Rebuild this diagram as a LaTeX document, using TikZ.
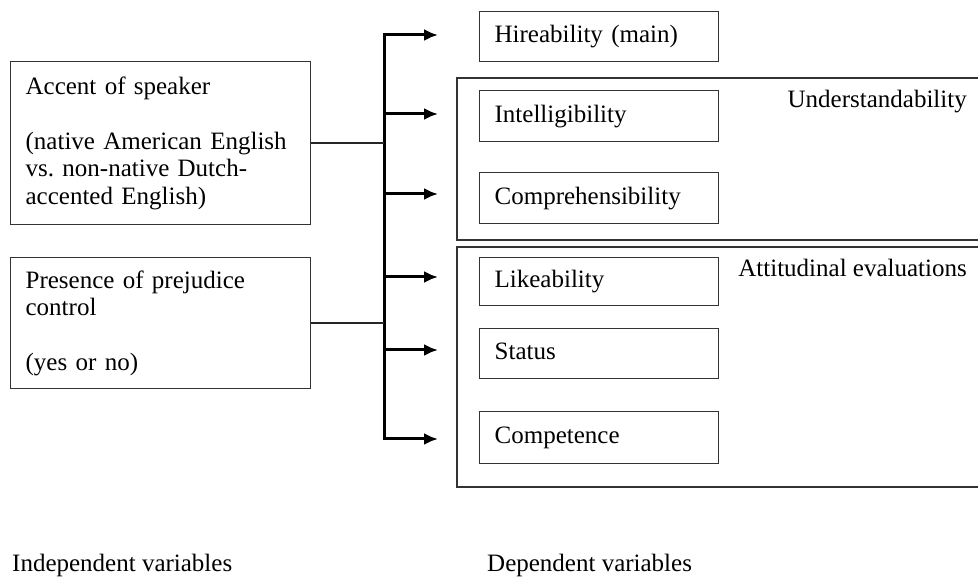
\documentclass[tikz,border=0pt]{standalone}
\usepackage{fontspec}
\setmainfont{Liberation Serif}
\usetikzlibrary{arrows.meta,calc}
\frenchspacing

\begin{document}
\begin{tikzpicture}[x=1pt,y=-1pt,
        txt/.style={font=\fontsize{25}{27.5}\selectfont,inner sep=0pt,text=black},
        ivbox/.style={txt,draw=black!80,line width=1.3pt,anchor=north west,align=left,
            minimum width=300pt,text width=270pt,inner xsep=15pt},
        dvbox/.style={txt,draw=black!80,line width=1.3pt,anchor=north west,align=left,
            minimum width=239pt,minimum height=51pt,text width=209pt,inner xsep=15pt,
            text height=17pt,text depth=5pt},
        group/.style={draw=black!80,line width=1.3pt},
        stem/.style={line width=3pt,line cap=rect},
        flow/.style={line width=3pt,-{Latex[length=14pt,width=12pt]}},
        link/.style={line width=2pt,draw=black!85}]
    \useasboundingbox (0,0) rectangle (978,577);

    % groups of dependent variables
    \draw[group] (980,78) -- (457,78) -- (457,240) -- (980,240);
    \draw[group] (980,247) -- (457,247) -- (457,487) -- (980,487);
    \node[txt,anchor=base east] (undtitle) at (967,108) {Understandability};
    \node[txt,anchor=base east] (atttitle) at (967,277) {Attitudinal evaluations};

    % independent variables
    \node[ivbox,minimum height=163pt] (accent) at (10,61)
        {Accent of speaker\\[27.5pt](native American English\\vs. non-native Dutch-\\accented English)};
    \node[ivbox,minimum height=131pt] (prejudice) at (10,257)
        {Presence of prejudice\\control\\[27.5pt](yes or no)};

    % dependent variables
    \node[dvbox,minimum height=50pt] (hire) at (479,11) {Hireability (main)};
    \node[dvbox] (intel) at (479,90) {Intelligibility};
    \node[dvbox] (compr) at (479,172) {Comprehensibility};
    \node[dvbox,minimum height=48pt] (like) at (479,257) {Likeability};
    \node[dvbox,minimum height=50pt] (status) at (479,328) {Status};
    \node[dvbox,minimum height=52pt] (comp) at (479,411) {Competence};

    % connectors
    \coordinate (trunk) at (384,0);
    \foreach \n/\y in {hire/35,intel/114,compr/194,like/277,status/350,comp/439}
        \coordinate (tip-\n) at (438,\y);
    \draw[stem] (tip-hire -| trunk) -- (tip-comp -| trunk);
    \foreach \n in {hire,intel,compr,like,status,comp}
        \draw[flow] (tip-\n -| trunk) -- (tip-\n);
    \draw[link] (accent.east) -- (accent.east -| trunk);
    \draw[link] (prejudice.east) -- (prejudice.east -| trunk);

    \node[txt,anchor=base west] (indep) at (12,571) {Independent variables};
    \node[txt,anchor=base west] (dep) at (487,571) {Dependent variables};
\end{tikzpicture}
\end{document}
